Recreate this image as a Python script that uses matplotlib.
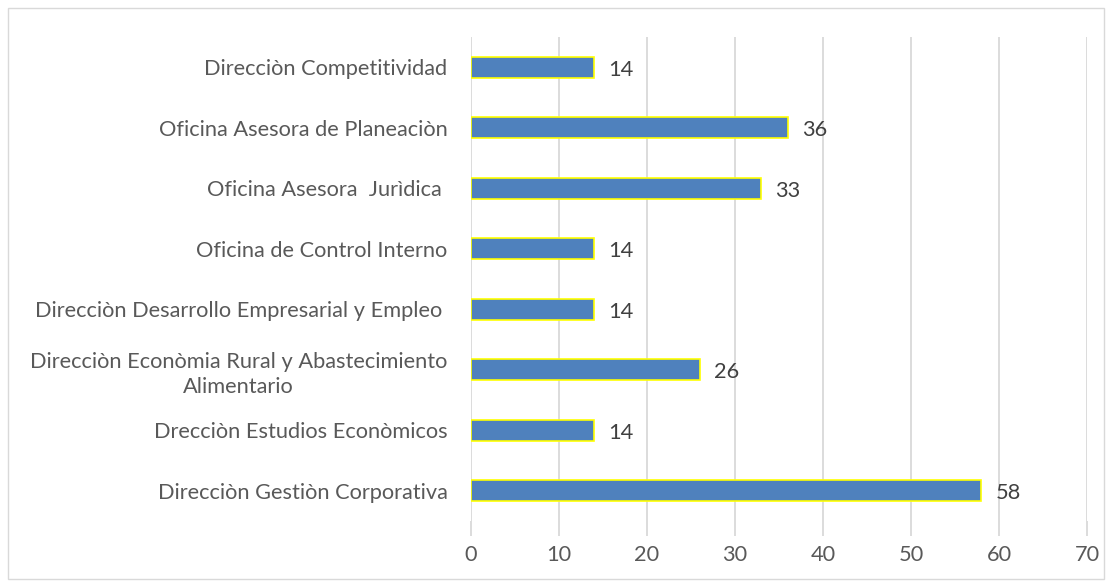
import matplotlib
matplotlib.use("Agg")
import matplotlib.pyplot as plt
from matplotlib.patches import Rectangle

categories = [
    "Direcciòn Gestiòn Corporativa",
    "Drecciòn Estudios Econòmicos",
    "Direcciòn Econòmia Rural y Abastecimiento\nAlimentario",
    "Direcciòn Desarrollo Empresarial y Empleo ",
    "Oficina de Control Interno",
    "Oficina Asesora  Jurìdica ",
    "Oficina Asesora de Planeaciòn",
    "Direcciòn Competitividad",
]
values = [58, 14, 26, 14, 14, 33, 36, 14]
xticks = [0, 10, 20, 30, 40, 50, 60, 70]

plt.rcParams['font.family'] = ['Lato', 'DejaVu Sans']
FS = 15.7

fig = plt.figure(figsize=(11.12, 5.81), dpi=100)
ax = fig.add_axes([0.4236, 0.1033, 0.9775 - 0.4236, 0.9363 - 0.1033])

pos = list(range(len(categories)))
ax.barh(pos, values, height=0.34, color="#4F81BD", edgecolor="#FFFF00", linewidth=1.2, zorder=3)
for p, v in zip(pos, values):
    ax.text(v + 1.6, p - 0.04, str(v), va="center", ha="left", fontsize=FS, color="#404040")

ax.set_xlim(0, 70)
ax.set_ylim(-0.5, len(categories) - 0.5)
ax.set_xticks(xticks)
ax.set_yticks(pos)
ax.set_yticklabels(categories, fontsize=FS, color="#595959")
for lbl in ax.get_yticklabels():
    lbl.set_ha("right")
    lbl.set_multialignment("center")
    lbl.set_linespacing(1.3)
ax.tick_params(axis="y", length=0, pad=17)
ax.tick_params(axis="x", length=11, color="#D9D9D9", width=1.3, labelsize=FS, labelcolor="#595959", pad=6)
ax.xaxis.grid(True, color="#D9D9D9", linewidth=1.3, zorder=0)
ax.set_axisbelow(True)
for s in ax.spines.values():
    s.set_visible(False)

fig.patches.append(Rectangle((8 / 1112, 2 / 581), 1096 / 1112, 571 / 581, transform=fig.transFigure,
                             fill=False, edgecolor="#D9D9D9", linewidth=1.0))

fig.savefig("out.png", dpi=100)
